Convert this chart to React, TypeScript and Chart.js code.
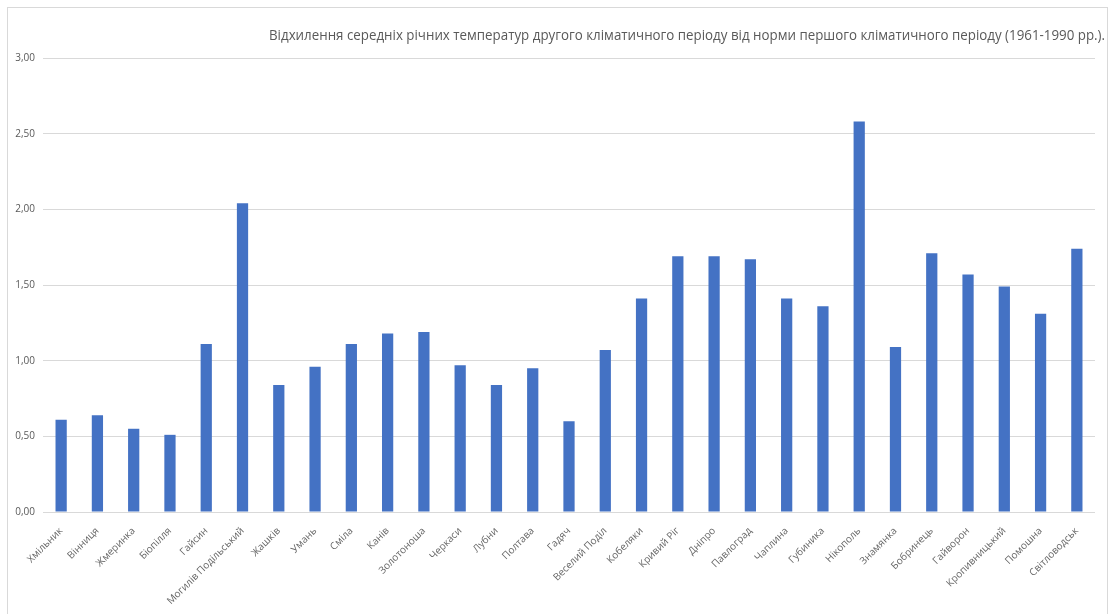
import React, { useEffect, useRef } from "react";
import { Chart, registerables } from "chart.js";

Chart.register(...registerables);

const stations: string[] = [
  "Хмільник", "Вінниця", "Жмеринка", "Біопілля", "Гайсин", "Могилів Подільський",
  "Жашків", "Умань", "Сміла", "Канів", "Золотоноша", "Черкаси", "Лубни", "Полтава",
  "Гадяч", "Веселий Поділ", "Кобеляки", "Кривий Ріг", "Дніпро", "Павлоград",
  "Чаплина", "Губиника", "Нікополь", "Знамянка", "Бобринець", "Гайворон",
  "Кропивницький", "Помошна", "Світловодськ",
];

const deviations: number[] = [
  0.61, 0.64, 0.55, 0.51, 1.11, 2.04,
  0.84, 0.96, 1.11, 1.18, 1.19, 0.97, 0.84, 0.95,
  0.60, 1.07, 1.41, 1.69, 1.69, 1.67,
  1.41, 1.36, 2.58, 1.09, 1.71, 1.57,
  1.49, 1.31, 1.74,
];

const yTicks = { min: 0, max: 3, step: 0.5 };

const chartTitle =
  "Відхилення середніх річних температур другого кліматичного періоду від норми першого кліматичного періоду (1961-1990 рр.).";

// Draws the heading right-aligned, condensed horizontally when it is wider than the allotted span.
const headingPlugin = {
  id: "heading",
  afterDraw(chart: any, _args: any, opts: any) {
    const ctx = chart.ctx as CanvasRenderingContext2D;
    ctx.save();
    ctx.font = opts.font;
    ctx.fillStyle = opts.color;
    ctx.textBaseline = "middle";
    ctx.textAlign = "right";
    const w = ctx.measureText(opts.text).width;
    const sx = w > opts.maxWidth ? opts.maxWidth / w : 1;
    ctx.translate(opts.right, opts.y);
    ctx.scale(sx, 1);
    ctx.fillText(opts.text, 0, 0);
    ctx.restore();
  },
};

export default function App() {
  const canvasRef = useRef<HTMLCanvasElement | null>(null);

  useEffect(() => {
    document.body.style.overflow = "hidden";
    const canvas = canvasRef.current;
    if (!canvas) return;
    const chart = new Chart(canvas, {
      type: "bar",
      data: {
        labels: stations,
        datasets: [
          {
            data: deviations,
            backgroundColor: "#4472C4",
            borderWidth: 0,
            barPercentage: 0.31,
            categoryPercentage: 1,
          },
        ],
      },
      plugins: [headingPlugin],
      options: {
        animation: false,
        responsive: false,
        layout: { padding: { top: 50, right: 12, left: 0, bottom: 0 } },
        plugins: {
          legend: { display: false },
          tooltip: { enabled: false },
          title: { display: false },
          heading: {
            text: chartTitle,
            font: "14px 'Open Sans'",
            color: "#595959",
            right: 1097,
            y: 28,
            maxWidth: 836,
          },
        } as any,
        scales: {
          x: {
            grid: { display: false, drawTicks: false },
            border: { display: false },
            ticks: {
              autoSkip: false,
              maxRotation: 45,
              minRotation: 45,
              padding: 13,
              color: "#666666",
              font: { family: "'Open Sans'", size: 10 },
            },
            afterFit(scale: any) {
              scale.height = 102;
            },
          },
          y: {
            min: yTicks.min,
            max: yTicks.max,
            grid: { color: "#d9d9d9", lineWidth: 1, drawTicks: false },
            border: { display: false },
            ticks: {
              stepSize: yTicks.step,
              padding: 8,
              color: "#595959",
              font: { family: "'Open Sans'", size: 10 },
              callback: (v: any) => Number(v).toFixed(2).replace(".", ","),
            },
            afterFit(scale: any) {
              scale.width = 35;
            },
          },
        },
      },
    });
    return () => chart.destroy();
  }, []);

  return (
    <div
      style={{
        position: "absolute",
        left: 7,
        top: 7,
        width: 1101,
        height: 640,
        border: "1px solid #d9d9d9",
        boxSizing: "border-box",
        background: "#fff",
      }}
    >
      <canvas ref={canvasRef} width={1099} height={606} style={{ display: "block" }} />
    </div>
  );
}
